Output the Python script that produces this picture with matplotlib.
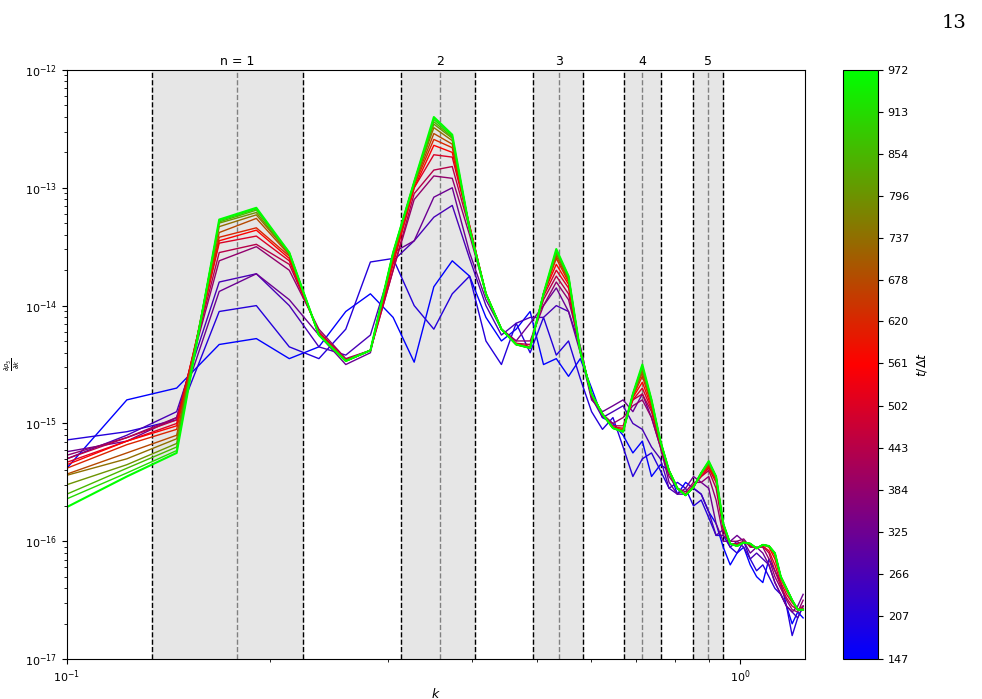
import numpy as np
import matplotlib
matplotlib.use("Agg")
import matplotlib.pyplot as plt
from matplotlib.colors import LinearSegmentedColormap, Normalize

# wavenumber grid
k = np.array([0.1 + 0.0228 * j for j in range(51)])
times = [147, 206, 265, 324, 383, 442, 501, 560, 619, 678, 737, 796, 855, 913, 972]

# log10 of spectra, one per time
s147 = [-15.38,-14.80,-14.70,-14.33,-14.28,-14.45,-14.35,-14.05,-13.90,-14.10,-14.48,-13.84,-13.62,-13.75,-14.10,-14.30,-14.20,-14.05,-14.50,-14.45,-14.60,-14.45,-14.70,-14.95,-15.00,-15.10,-15.25,-15.15,-15.45,-15.35,-15.40,-15.60,-15.50,-15.55,-15.60,-15.75,-15.85,-16.05,-16.20,-16.10,-16.05,-16.20,-16.30,-16.35,-16.15,-16.25,-16.35,-16.55,-16.70,-16.60,-16.65]
s206 = [-15.14,-15.07,-14.97,-14.05,-14.00,-14.35,-14.45,-14.20,-13.63,-13.60,-14.00,-14.20,-13.90,-13.75,-14.30,-14.50,-14.15,-14.40,-14.10,-14.42,-14.30,-14.62,-14.90,-15.05,-14.95,-15.20,-15.45,-15.30,-15.25,-15.40,-15.55,-15.50,-15.55,-15.70,-15.65,-15.80,-15.95,-15.95,-16.05,-16.10,-16.00,-16.15,-16.25,-16.20,-16.30,-16.40,-16.45,-16.55,-16.80,-16.65,-16.55]
s265 = [-15.30,-15.10,-14.90,-13.80,-13.73,-14.00,-14.35,-14.42,-14.25,-13.62,-13.45,-13.25,-13.15,-13.60,-14.00,-14.25,-14.15,-14.10,-14.10,-14.00,-14.05,-14.35,-14.78,-14.95,-14.90,-14.85,-15.00,-15.05,-15.20,-15.30,-15.55,-15.60,-15.60,-15.55,-15.60,-15.75,-15.95,-15.90,-16.05,-16.00,-16.05,-16.15,-16.10,-16.15,-16.20,-16.35,-16.45,-16.55,-16.60,-16.65,-16.55]
s324 = [-15.24,-15.15,-14.95,-13.88,-13.73,-13.95,-14.25,-14.50,-14.40,-13.55,-13.45,-13.08,-13.00,-13.55,-13.95,-14.20,-14.30,-14.15,-14.00,-13.85,-14.05,-14.40,-14.80,-14.90,-14.85,-14.80,-14.90,-14.75,-14.95,-15.20,-15.50,-15.60,-15.55,-15.45,-15.50,-15.55,-15.85,-16.00,-16.00,-15.95,-16.00,-16.10,-16.05,-16.10,-16.20,-16.35,-16.45,-16.55,-16.60,-16.55,-16.45]
s383 = [-15.27,-15.12,-14.95,-13.62,-13.50,-13.70,-14.20,-14.45,-14.38,-13.70,-13.10,-12.90,-12.92,-13.40,-13.90,-14.20,-14.30,-14.30,-14.00,-13.80,-13.95,-14.35,-14.78,-14.92,-15.00,-14.95,-14.85,-14.80,-14.95,-15.20,-15.45,-15.55,-15.58,-15.50,-15.50,-15.45,-15.65,-15.95,-16.00,-16.00,-15.98,-16.05,-16.05,-16.05,-16.15,-16.30,-16.40,-16.50,-16.58,-16.60,-16.50]
s442 = [-15.30,-15.12,-14.97,-13.55,-13.48,-13.65,-14.22,-14.46,-14.38,-13.70,-13.05,-12.85,-12.82,-13.35,-13.90,-14.20,-14.32,-14.33,-13.95,-13.75,-13.90,-14.38,-14.76,-14.92,-15.02,-15.02,-14.80,-14.75,-14.90,-15.18,-15.42,-15.55,-15.60,-15.52,-15.45,-15.40,-15.55,-15.90,-16.02,-16.02,-16.00,-16.04,-16.06,-16.04,-16.10,-16.25,-16.38,-16.48,-16.55,-16.58,-16.55]
s501 = [-15.33,-15.15,-15.00,-13.47,-13.41,-13.62,-14.23,-14.46,-14.38,-13.65,-13.00,-12.72,-12.74,-13.32,-13.90,-14.20,-14.32,-14.35,-13.92,-13.70,-13.85,-14.38,-14.76,-14.93,-15.03,-15.04,-14.80,-14.70,-14.88,-15.17,-15.41,-15.55,-15.60,-15.53,-15.45,-15.38,-15.50,-15.88,-16.02,-16.03,-16.01,-16.03,-16.06,-16.04,-16.08,-16.20,-16.35,-16.45,-16.52,-16.58,-16.57]
s560 = [-15.35,-15.15,-15.02,-13.45,-13.36,-13.60,-14.24,-14.47,-14.38,-13.62,-13.00,-12.64,-12.70,-13.32,-13.90,-14.20,-14.33,-14.35,-13.90,-13.65,-13.82,-14.39,-14.75,-14.92,-15.04,-15.05,-14.78,-14.65,-14.86,-15.16,-15.40,-15.55,-15.61,-15.54,-15.43,-15.37,-15.48,-15.86,-16.02,-16.04,-16.01,-16.02,-16.06,-16.03,-16.05,-16.15,-16.32,-16.42,-16.50,-16.58,-16.58]
s619 = [-15.38,-15.18,-15.05,-13.42,-13.34,-13.58,-14.24,-14.47,-14.38,-13.60,-12.98,-12.59,-12.66,-13.33,-13.90,-14.20,-14.33,-14.36,-13.90,-13.60,-13.80,-14.39,-14.75,-14.92,-15.04,-15.06,-14.77,-14.60,-14.84,-15.16,-15.40,-15.55,-15.61,-15.54,-15.42,-15.36,-15.47,-15.86,-16.02,-16.04,-16.01,-16.02,-16.06,-16.03,-16.04,-16.12,-16.30,-16.40,-16.50,-16.58,-16.58]
s678 = [-15.43,-15.25,-15.10,-13.38,-13.26,-13.57,-14.25,-14.47,-14.38,-13.58,-12.97,-12.54,-12.63,-13.34,-13.90,-14.20,-14.33,-14.36,-13.90,-13.58,-13.78,-14.39,-14.75,-14.92,-15.04,-15.06,-14.76,-14.57,-14.83,-15.15,-15.40,-15.55,-15.61,-15.54,-15.42,-15.35,-15.46,-15.85,-16.02,-16.04,-16.01,-16.02,-16.06,-16.03,-16.04,-16.11,-16.30,-16.40,-16.50,-16.58,-16.58]
s737 = [-15.44,-15.30,-15.13,-13.33,-13.23,-13.56,-14.25,-14.47,-14.38,-13.57,-12.96,-12.49,-12.60,-13.34,-13.90,-14.20,-14.33,-14.36,-13.90,-13.56,-13.77,-14.39,-14.75,-14.92,-15.04,-15.07,-14.76,-14.55,-14.82,-15.15,-15.40,-15.55,-15.61,-15.54,-15.42,-15.34,-15.46,-15.85,-16.02,-16.04,-16.01,-16.02,-16.06,-16.03,-16.04,-16.10,-16.30,-16.40,-16.50,-16.58,-16.58]
s796 = [-15.52,-15.35,-15.17,-13.30,-13.21,-13.56,-14.25,-14.47,-14.38,-13.56,-12.96,-12.46,-12.58,-13.35,-13.90,-14.20,-14.33,-14.36,-13.90,-13.55,-13.76,-14.39,-14.75,-14.92,-15.04,-15.07,-14.75,-14.53,-14.81,-15.15,-15.40,-15.55,-15.61,-15.54,-15.42,-15.33,-15.45,-15.85,-16.02,-16.04,-16.01,-16.02,-16.06,-16.03,-16.04,-16.10,-16.30,-16.40,-16.50,-16.58,-16.58]
s855 = [-15.60,-15.38,-15.20,-13.29,-13.19,-13.55,-14.25,-14.47,-14.38,-13.55,-12.95,-12.44,-12.57,-13.35,-13.90,-14.20,-14.33,-14.36,-13.90,-13.54,-13.75,-14.39,-14.75,-14.92,-15.04,-15.07,-14.75,-14.52,-14.80,-15.15,-15.40,-15.55,-15.61,-15.54,-15.42,-15.33,-15.45,-15.85,-16.02,-16.04,-16.01,-16.02,-16.06,-16.03,-16.04,-16.10,-16.30,-16.40,-16.50,-16.58,-16.58]
s913 = [-15.64,-15.42,-15.23,-13.28,-13.18,-13.55,-14.25,-14.47,-14.38,-13.55,-12.95,-12.42,-12.56,-13.35,-13.90,-14.20,-14.33,-14.36,-13.90,-13.53,-13.75,-14.39,-14.75,-14.92,-15.04,-15.07,-14.75,-14.51,-14.80,-15.15,-15.40,-15.55,-15.61,-15.54,-15.42,-15.32,-15.45,-15.85,-16.02,-16.04,-16.01,-16.02,-16.06,-16.03,-16.04,-16.10,-16.30,-16.40,-16.50,-16.58,-16.58]
s972 = [-15.71,-15.45,-15.25,-13.27,-13.17,-13.55,-14.25,-14.47,-14.38,-13.55,-12.95,-12.40,-12.55,-13.35,-13.90,-14.20,-14.33,-14.36,-13.90,-13.52,-13.75,-14.39,-14.75,-14.92,-15.04,-15.07,-14.75,-14.50,-14.80,-15.15,-15.40,-15.55,-15.61,-15.54,-15.42,-15.32,-15.45,-15.85,-16.02,-16.04,-16.01,-16.02,-16.06,-16.03,-16.04,-16.10,-16.30,-16.40,-16.50,-16.58,-16.58]
spectra = [s147, s206, s265, s324, s383, s442, s501, s560, s619, s678, s737, s796, s855, s913, s972]

band_lo = [0.1337, 0.3135, 0.4925, 0.672, 0.851]
band_hi = [0.2242, 0.4039, 0.5843, 0.763, 0.943]
band_c = [0.179, 0.358, 0.5384, 0.715, 0.896]
band_labels = ["n = 1", "2", "3", "4", "5"]
cbar_ticks = [147, 207, 266, 325, 384, 443, 502, 561, 620, 678, 737, 796, 854, 913, 972]

cmap = LinearSegmentedColormap.from_list("brg", ["#0000ff", "#ff0000", "#00ff00"])
norm = Normalize(vmin=147, vmax=972)

fig = plt.figure(figsize=(9.82, 6.99), dpi=100)
ax = fig.add_axes([0.068, 0.057, 0.752, 0.843])
cax = fig.add_axes([0.858, 0.057, 0.036, 0.843])

for lo, hi, c, lab in zip(band_lo, band_hi, band_c, band_labels):
    ax.axvspan(lo, hi, color="#e6e6e6", zorder=0)
    ax.axvline(lo, color="black", ls="--", lw=1, zorder=1)
    ax.axvline(hi, color="black", ls="--", lw=1, zorder=1)
    ax.axvline(c, color="gray", ls="--", lw=1, zorder=1)
    ax.text(c, 1.003, lab, transform=ax.get_xaxis_transform(), ha="center", va="bottom", fontsize=9)

for t, s in zip(times, spectra):
    lw = 1.5 if t == times[-1] else 1.0
    ax.plot(k, 10.0 ** np.array(s), color=cmap(norm(t)), lw=lw, zorder=2)

ax.set_xscale("log")
ax.set_yscale("log")
ax.set_xlim(0.1, 1.249)
ax.set_ylim(1e-17, 1e-12)
ax.tick_params(labelsize=8)
ax.set_xlabel("$k$", fontsize=9, labelpad=1)
ax.set_ylabel(r"$\frac{\partial \rho_3}{\partial k}$", fontsize=7)
ax.yaxis.set_label_coords(-0.06, 0.5)

sm = matplotlib.cm.ScalarMappable(norm=norm, cmap=cmap)
cb = fig.colorbar(sm, cax=cax, ticks=cbar_ticks)
cb.ax.tick_params(labelsize=8)
cb.set_label(r"$t/\Delta t$", fontsize=9)

fig.text(0.984, 0.98, "13", ha="right", va="top", fontsize=14, family="DejaVu Serif")

fig.savefig("out.png", dpi=100)
